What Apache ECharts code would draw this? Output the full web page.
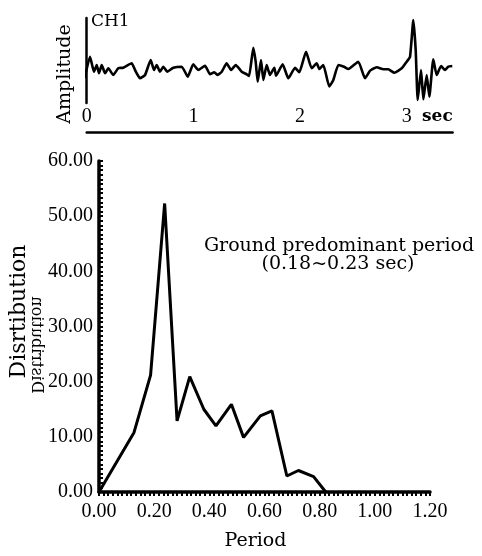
<!DOCTYPE html>
<html>
<head>
<meta charset="utf-8">
<script src="https://cdn.jsdelivr.net/npm/echarts@6/dist/echarts.min.js"></script>
<style>
  html, body { margin: 0; padding: 0; background: #fff; }
  #main { width: 482px; height: 556px; }
</style>
</head>
<body>
<div id="main"></div>
<script>
// CH1 record (time in sec, amplitude in arbitrary units)
var waveTime = [-0.019, 0.031, 0.068, 0.094, 0.115, 0.141, 0.172, 0.203, 0.249, 0.296,
  0.343, 0.422, 0.453, 0.5, 0.547, 0.6, 0.631, 0.656, 0.687, 0.718,
  0.756, 0.812, 0.891, 0.947, 0.999, 1.046, 1.109, 1.156, 1.196, 1.228,
  1.266, 1.312, 1.353, 1.397, 1.453, 1.5, 1.522, 1.562, 1.584, 1.603,
  1.634, 1.656, 1.687, 1.718, 1.759, 1.775, 1.837, 1.89, 1.953, 1.993,
  2.056, 2.109, 2.156, 2.181, 2.218, 2.274, 2.312, 2.359, 2.412, 2.452,
  2.546, 2.609, 2.649, 2.665, 2.719, 2.781, 2.827, 2.884, 2.953, 3.0,
  3.031, 3.062, 3.084, 3.103, 3.134, 3.156, 3.187, 3.212, 3.249, 3.281,
  3.322, 3.359, 3.39, 3.427];
var waveAmp = [-10, 11.3, -3.7, 3, -5.3, 3, -5.3, -0.3, -7, -0.3,
  0.3, 4.7, -2, -10.3, -7, 8, -2, 3, -3.7, 1.3,
  -3.7, 0.3, 1.3, -8.7, 3.7, -2, 2.3, -6.3, -4.3, -7,
  -3.7, 4.7, -2, 3, -3.7, -6.3, -8, 20.3, 6.3, -13.7,
  8, -12, 3, -7, 0.3, -7.7, 3.7, -10.3, 0.3, -4.3,
  16.3, -0.3, 4.7, -1, 3, -18.5, -12, 3, 1.3, -1,
  6.3, -10.3, -3.7, -2, 0.7, -1.3, -1.3, -4.7, -0.3, 6.3,
  11.3, 48, 18, -32, -2, -31.3, -7, -28.7, 8.7, -7,
  2, -2, 1.3, 2];

// distribution of period
var periods = [0, 0.127, 0.187, 0.238, 0.283, 0.329, 0.38, 0.424, 0.48, 0.524,
  0.585, 0.627, 0.681, 0.723, 0.778, 0.822];
var distribution = [0, 10.8, 21.2, 52.3, 12.9, 20.9, 15.0, 12.0, 15.9, 9.9,
  13.8, 14.7, 2.9, 3.9, 2.8, 0];

var numFont = 'Liberation Serif';
var wordFont = 'DejaVu Serif';

var chart = echarts.init(document.getElementById('main'), null, { renderer: 'canvas' });

var option = {
  backgroundColor: '#fff',
  animation: false,
  grid: [
    { left: 86.7, right: 29.4, top: 18, height: 85 },
    { left: 98, right: 52, top: 161, bottom: 57 }
  ],
  xAxis: [
    {
      gridIndex: 0, type: 'value', min: 0, max: 3.43, interval: 1,
      axisLine: { show: false }, axisTick: { show: false }, splitLine: { show: false },
      axisLabel: {
        margin: 4, color: '#000', fontFamily: numFont, fontSize: 20,
        formatter: function (v) { return Number.isInteger(v) ? String(v) : ''; }
      }
    },
    {
      gridIndex: 0, type: 'value', min: 0, max: 3.43, position: 'bottom', offset: 29,
      axisLine: { show: true, lineStyle: { color: '#000', width: 2.5 } },
      axisTick: { show: false }, axisLabel: { show: false }, splitLine: { show: false }
    },
    {
      gridIndex: 1, type: 'value', min: 0, max: 1.2, interval: 0.2,
      axisLine: { show: true, lineStyle: { color: '#000', width: 3.5 } },
      axisTick: { show: true, length: 4, lineStyle: { color: '#000', width: 2 } },
      minorTick: { show: true, splitNumber: 12, length: 4, lineStyle: { color: '#000', width: 2 } },
      splitLine: { show: false },
      axisLabel: {
        margin: 10, color: '#000', fontFamily: numFont, fontSize: 20,
        formatter: function (v) { return v.toFixed(2); }
      },
      name: 'Period', nameLocation: 'middle', nameGap: 40,
      nameTextStyle: { color: '#000', fontFamily: wordFont, fontSize: 19, padding: [0, 18, 0, 0] }
    }
  ],
  yAxis: [
    {
      gridIndex: 0, type: 'value', min: -35, max: 50, offset: 3.7,
      axisLine: { show: true, lineStyle: { color: '#000', width: 2.5 } },
      axisTick: { show: false }, axisLabel: { show: false }, splitLine: { show: false },
      name: 'Amplitude', nameLocation: 'middle', nameGap: 8,
      nameTextStyle: { color: '#000', fontFamily: wordFont, fontSize: 19, padding: [0, 27, 0, 0] }
    },
    {
      gridIndex: 1, type: 'value', min: 0, max: 60, interval: 10,
      axisLine: { show: true, lineStyle: { color: '#000', width: 3.5 } },
      axisTick: { show: true, length: 4, inside: true, lineStyle: { color: '#000', width: 2 } },
      minorTick: { show: true, splitNumber: 12, length: 4, lineStyle: { color: '#000', width: 2 } },
      splitLine: { show: false },
      axisLabel: {
        margin: 6, color: '#000', fontFamily: numFont, fontSize: 20,
        formatter: function (v) { return v.toFixed(2); }
      },
      name: 'Disrtibution', nameLocation: 'middle', nameGap: 69,
      nameTextStyle: { color: '#000', fontFamily: wordFont, fontSize: 22, padding: [0, 0, 0, 30] }
    }
  ],
  series: [
    {
      type: 'line', xAxisIndex: 0, yAxisIndex: 0,
      data: waveTime.map(function (t, i) { return [t, waveAmp[i]]; }),
      showSymbol: false, clip: false, smooth: 0.15,
      lineStyle: { color: '#000', width: 2.6 }
    },
    {
      type: 'line', xAxisIndex: 2, yAxisIndex: 1,
      data: periods.map(function (p, i) { return [p, distribution[i]]; }),
      showSymbol: false,
      lineStyle: { color: '#000', width: 3 }
    }
  ],
  graphic: [
    { type: 'text', x: 91, y: 22,
      style: { text: 'CH1', fill: '#000', font: '17px "DejaVu Serif"', textVerticalAlign: 'middle' } },
    { type: 'text', x: 422, y: 117,
      style: { text: 'sec', fill: '#000', font: 'bold 17px "DejaVu Serif"', textVerticalAlign: 'middle' } },
    { type: 'text', x: 339, y: 246,
      style: { text: 'Ground predominant period', fill: '#000', font: '19px "DejaVu Serif"',
        textAlign: 'center', textVerticalAlign: 'middle' } },
    { type: 'text', x: 338, y: 264,
      style: { text: '(0.18~0.23 sec)', fill: '#000', font: '19px "DejaVu Serif"',
        textAlign: 'center', textVerticalAlign: 'middle' } },
    // mirrored ghost of the axis title, as in the scan
    { type: 'text', x: 28, y: 345, rotation: Math.PI / 2, scaleX: 1, scaleY: -1,
      style: { text: 'Distribution', fill: '#000', font: '16px "DejaVu Serif"',
        textAlign: 'center', textVerticalAlign: 'bottom' } },
    { type: 'rect', shape: { x: 26, y: 290, width: 6, height: 110 },
      style: { fill: '#fff' } }
  ]
};

chart.setOption(option);
</script>
</body>
</html>
